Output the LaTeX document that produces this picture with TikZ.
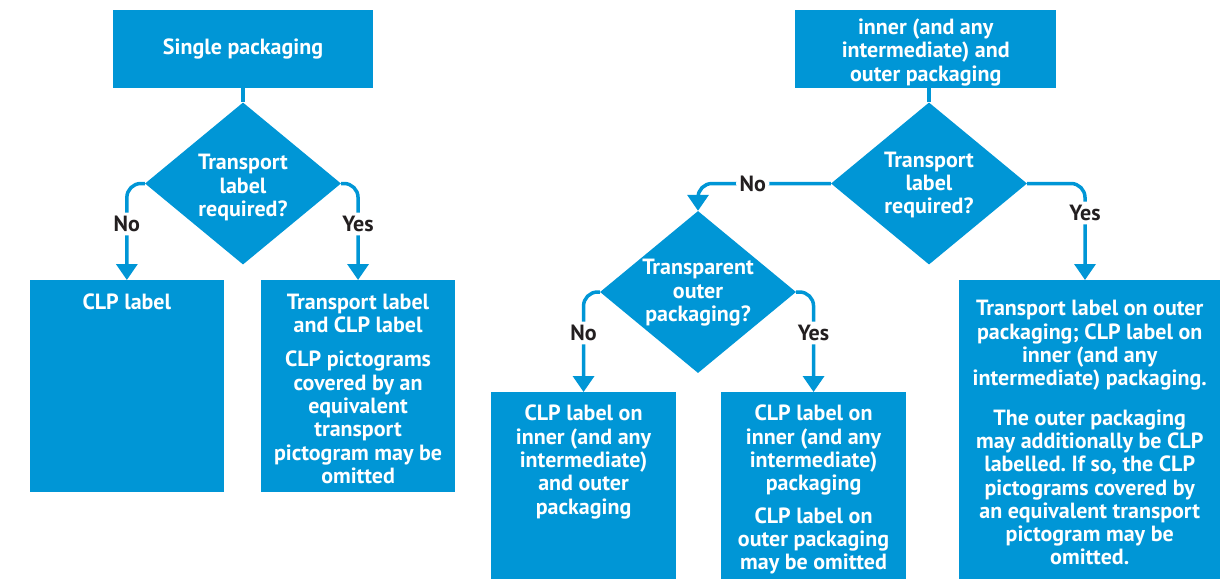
\documentclass[tikz,border=0pt]{standalone}
\usepackage{fontspec}
\setmainfont{PT Sans}
\usetikzlibrary{shapes.geometric,arrows.meta}
\definecolor{cblue}{RGB}{0,150,214}
\definecolor{ink}{RGB}{35,31,32}
\newcommand{\fs}{\fontsize{22}{23.3}\selectfont}
\newcommand{\ztext}[2][0pt]{\smash{\makebox[0pt]{\raisebox{#1}{\begin{tabular}{@{}c@{}}#2\end{tabular}}}}}
\newcommand{\bt}[4]{\parbox[t][#2][t]{#1}{\vspace*{#3}\centering\strut #4\par}}
\frenchspacing
\tikzset{
  box/.style={fill=cblue, text=white, font=\bfseries\fs, inner sep=0pt, anchor=north west},
  diam/.style={diamond, fill=cblue, text=white, font=\bfseries\fs, inner sep=0pt,
               minimum width=196pt, minimum height=162pt},
  conn/.style={draw=cblue, line width=3.5pt},
  arr/.style={conn, -{Triangle[width=21pt,length=16pt]}, rounded corners=14pt},
  lab/.style={fill=white, text=ink, font=\bfseries\fs, inner sep=3.5pt}
}
\begin{document}
\begin{tikzpicture}[x=1pt,y=-1pt]
\useasboundingbox (0,0) rectangle (1230,579);
% left flow
\node[box, anchor=center, minimum width=260.6pt, minimum height=78pt] (sp) at (243,49) {Single packaging};
\node[diam] (d1) at (243,183.5) {\ztext[-10.2pt]{Transport\\label\\required?}};
\node[box] (clp) at (29.3,280) {\bt{194.7pt}{212pt}{13pt}{CLP label}};
\node[box] (tcl) at (260.7,280) {\bt{194.3pt}{212pt}{13pt}{Transport label\\and CLP label\par\vspace{10.7pt}CLP pictograms\\covered by an\\equivalent\\transport\\pictogram may be\\omitted}};
\draw[conn] (sp.south) -- (d1.north);
\draw[arr] (d1.west) -| node[lab,pos=0.71]{No} (clp.north);
\draw[arr] (d1.east) -| node[lab,pos=0.71]{Yes} (tcl.north);
% right flow
\node[box] (tb) at (795,10) {\bt{261pt}{78pt}{8pt}{inner (and any\\intermediate) and\\outer packaging}};
\node[diam] (d2) at (929,183.5) {\ztext[-7.4pt]{Transport\\label\\required?}};
\node[diam] (d3) at (698,292) {\ztext[-6.7pt]{Transparent\\outer\\packaging?}};
\node[box] (nb1) at (491,392) {\bt{184.7pt}{187pt}{12.4pt}{CLP label on\\inner (and any\\intermediate)\\and outer\\packaging}};
\node[box] (nb2) at (720.7,392) {\bt{185.3pt}{187pt}{12.4pt}{CLP label on\\inner (and any\\intermediate)\\packaging\par\vspace{9pt}CLP label on\\outer packaging\\may be omitted}};
\node[box] (bb) at (959,280) {\bt{261pt}{299pt}{19.4pt}{Transport label on outer\\packaging; CLP label on\\inner (and any\\intermediate) packaging.\par\vspace{16pt}The outer packaging\\may additionally be CLP\\labelled. If so, the CLP\\pictograms covered by\\an equivalent transport\\pictogram may be\\omitted.}};
\coordinate (bbin) at (1085,280);
\draw[conn] (d2.north) -- (d2.north |- tb.south);
\draw[arr] (d2.west) -| node[lab,pos=0.294]{No} (d3.north);
\draw[arr] (d2.east) -| node[lab,pos=0.653]{Yes} (bbin);
\draw[arr] (d3.west) -| node[lab,pos=0.705]{No} (nb1.north);
\draw[arr] (d3.east) -| node[lab,pos=0.705]{Yes} (nb2.north);
\end{tikzpicture}
\end{document}
